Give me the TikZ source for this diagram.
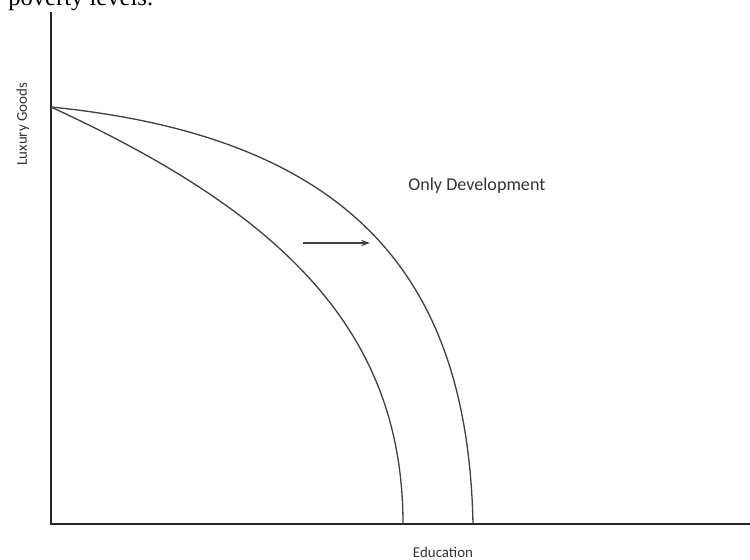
\documentclass[tikz,border=0pt]{standalone}
\usepackage{fontspec}
\setmainfont{Liberation Serif}
\newfontfamily\labelfont{Carlito}
\usepackage{tikz}
\usetikzlibrary{arrows.meta}

\begin{document}
\begin{tikzpicture}[x=0.02cm,y=-0.02cm,
    axis/.style={line width=1.1pt,black!85},
    ppf/.style={line width=0.75pt,black!75},
    lbl/.style={font=\labelfont\fontsize{8.5}{10}\selectfont,text=black!80,inner sep=0pt}]
      \useasboundingbox (0,0) rectangle (750,559);
      \clip (0,0) rectangle (750,559);
      \node[anchor=base west,inner sep=0pt,font=\fontsize{14}{16}\selectfont] (caption) at (8,5) {poverty levels.};
      \coordinate (origin) at (51,524);
      \coordinate (ytop) at (51,12);
      \coordinate (xend) at (750,524);
      \draw[axis] (ytop)--(origin)--(xend);
      \coordinate (start) at (51,107);
      \coordinate (innerend) at (403,524);
      \coordinate (outerend) at (473,524);
      \draw[ppf] (start) .. controls (281,213) and (403,330) .. (innerend);
      \draw[ppf] (start) .. controls (360,138) and (468,285) .. (outerend);
      \coordinate (shiftfrom) at (303,243);
      \coordinate (shiftto) at (370,243);
      \draw[ppf,-{Stealth[length=5pt,width=3.5pt]}] (shiftfrom)--(shiftto);
      \node[lbl,anchor=base west,font=\labelfont\fontsize{10.3}{12}\selectfont] (develop) at (408,190) {Only Development};
      \node[lbl,rotate=90] (ylabel) at (23,124) {Luxury Goods};
      \node[lbl,anchor=base] (xlabel) at (443,557) {Education};
    \end{tikzpicture}
\end{document}
